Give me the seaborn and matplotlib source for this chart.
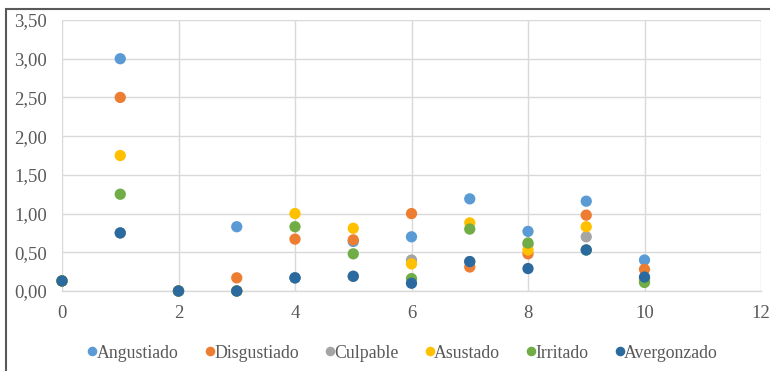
import matplotlib
matplotlib.use("Agg")
import matplotlib.pyplot as plt
from matplotlib.ticker import FuncFormatter, MultipleLocator
from matplotlib.patches import Rectangle
import seaborn as sns
import pandas as pd

# Scores per emotion at each measurement point
x_vals = [0, 1, 2, 3, 4, 5, 6, 7, 8, 9, 10]
angustiado  = [0.13, 3.00, 0.00, 0.83, 0.17, 0.64, 0.70, 1.19, 0.77, 1.16, 0.40]
disgustiado = [0.13, 2.50, 0.00, 0.17, 0.67, 0.66, 1.00, 0.31, 0.48, 0.98, 0.28]
culpable    = [0.13, 0.75, 0.00, 0.00, 0.17, 0.19, 0.40, 0.38, 0.60, 0.70, 0.15]
asustado    = [0.13, 1.75, 0.00, 0.00, 1.00, 0.81, 0.35, 0.88, 0.53, 0.83, 0.13]
irritado    = [0.13, 1.25, 0.00, 0.00, 0.83, 0.48, 0.16, 0.80, 0.62, 0.53, 0.11]
avergonzado = [0.13, 0.75, 0.00, 0.00, 0.17, 0.19, 0.10, 0.38, 0.29, 0.53, 0.18]

series_names = ["Angustiado", "Disgustiado", "Culpable", "Asustado", "Irritado", "Avergonzado"]
series_vals = [angustiado, disgustiado, culpable, asustado, irritado, avergonzado]
colors = ["#5B9BD5", "#ED7D31", "#A5A5A5", "#FFC000", "#70AD47", "#2B6A9F"]

rows = []
for name, vals in zip(series_names, series_vals):
    for x, v in zip(x_vals, vals):
        rows.append({"x": x, "valor": v, "emocion": name})
df = pd.DataFrame(rows)

sns.set_theme(style="white")
plt.rcParams["font.family"] = ["Liberation Serif", "DejaVu Serif"]

fig = plt.figure(figsize=(7.70, 3.71), dpi=100)
ax = fig.add_axes([62 / 770, 1 - 291 / 371, (761 - 62) / 770, (291 - 20) / 371])

sns.scatterplot(data=df, x="x", y="valor", hue="emocion", hue_order=series_names,
                palette=colors, s=66, linewidth=0, ax=ax, legend=True, zorder=3,
                clip_on=False)

ax.set_xlim(0, 12)
ax.set_ylim(0, 3.5)
ax.xaxis.set_major_locator(MultipleLocator(2))
ax.yaxis.set_major_locator(MultipleLocator(0.5))
ax.yaxis.set_major_formatter(FuncFormatter(lambda v, p: f"{v:.2f}".replace(".", ",")))
ax.set_xlabel("")
ax.set_ylabel("")
ax.grid(True, color="#D9D9D9", linewidth=1.0, zorder=0)
ax.set_axisbelow(True)
for side in ["left", "top", "right"]:
    ax.spines[side].set_visible(False)
ax.spines["bottom"].set_color("#D9D9D9")
ax.spines["bottom"].set_linewidth(1.0)
ax.tick_params(axis="both", length=0, labelsize=13.5, labelcolor="#595959")
ax.tick_params(axis="x", pad=10)
ax.tick_params(axis="y", pad=11)

handles, labels = ax.get_legend_handles_labels()
ax.legend_.remove()
fig.legend(handles, labels, loc="center", bbox_to_anchor=(402 / 770, 1 - 353 / 371),
           ncol=6, frameon=False, fontsize=12.8, labelcolor="#595959",
           handletextpad=-0.1, columnspacing=1.4, markerscale=0.85, handlelength=0.7)

# Outer chart frame
fig.patches.append(Rectangle((6 / 770, -0.1), 1.2, 1 - 9 / 371 + 0.1,
                             transform=fig.transFigure, fill=False,
                             edgecolor="#595959", linewidth=1.5))

fig.savefig("out.png", dpi=100)
